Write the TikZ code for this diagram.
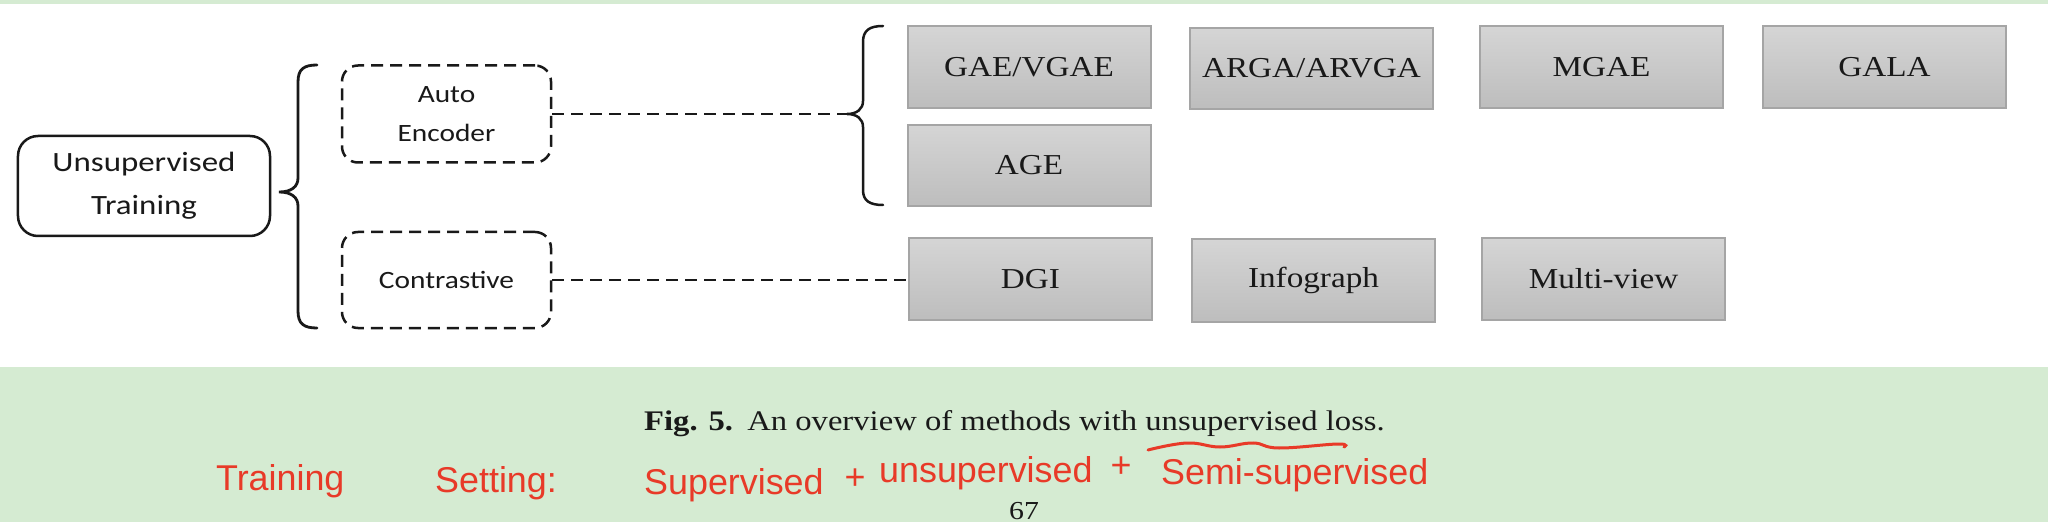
\documentclass[tikz,border=0pt]{standalone}
\usepackage{fontspec}
\newfontfamily\serifbox{Liberation Serif}[FakeStretch=1.15]
\newfontfamily\calib{Carlito}[FakeStretch=1.18]
\newfontfamily\hand{Liberation Sans}
\definecolor{bggreen}{RGB}{213,235,210}
\definecolor{hred}{RGB}{232,58,40}
\definecolor{boxtop}{RGB}{213,213,213}
\definecolor{boxbot}{RGB}{189,189,189}
\definecolor{boxline}{RGB}{165,165,165}
\definecolor{ink}{RGB}{25,25,25}
\tikzset{
  method/.style={draw=boxline, line width=2bp, top color=boxtop, bottom color=boxbot,
    minimum width=243bp, minimum height=82bp, inner sep=0pt, text=ink,
    font=\serifbox\fontsize{29}{34}\selectfont},
  catbox/.style={draw=ink, dash pattern=on 12bp off 7bp, line width=2.5bp, rounded corners=16bp,
    minimum width=209bp, minimum height=97bp, inner sep=0pt, align=center, text=ink,
    font=\calib\fontsize{25}{39}\selectfont},
  rootbox/.style={draw=ink, line width=2.5bp, rounded corners=20bp,
    minimum width=252bp, minimum height=100bp, inner sep=0pt, align=center, text=ink,
    font=\calib\fontsize{28}{43}\selectfont},
  dashline/.style={draw=ink, dash pattern=on 12bp off 7bp, line width=2.5bp},
  bracepath/.style={draw=ink, line width=2.8bp, line cap=round},
  handtext/.style={text=hred, font=\hand\fontsize{36}{40}\selectfont, inner sep=0pt, anchor=base west},
  plaintext/.style={inner sep=0pt, text=ink, font=\serifbox\fontsize{28.5}{34}\selectfont},
}
\begin{document}
\begin{tikzpicture}[x=1bp, y=-1bp]
\useasboundingbox (0,0) rectangle (2048,522);
\clip (0,0) rectangle (2048,522);
\fill[white] (0,0) rectangle (2048,522);
\fill[bggreen] (0,0) rectangle (2048,4);
\fill[bggreen] (0,367) rectangle (2048,522);

% root and categories
\node[rootbox] (ut) at (144,186) {Unsupervised\\Training};
\node[catbox] (ae) at (446.5,114) {Auto\\Encoder};
\node[catbox, minimum height=96bp] (co) at (446.5,280) {Contrastive};

% methods
\node[method] (gae) at (1029,67) {GAE/VGAE};
\node[method, minimum height=81bp] (age) at (1029,165.5) {AGE};
\node[method] (dgi) at (1030.5,279) {DGI};
\node[method, minimum height=81bp] (arga) at (1311.5,68.5) {ARGA/ARVGA};
\node[method, minimum height=83bp] (info) at (1313.5,280.5) {Infograph};
\node[method] (mgae) at (1601.5,67) {MGAE};
\node[method] (gala) at (1884.5,67) {GALA};
\node[method] (mv) at (1603.5,279) {Multi-view};

% braces
\draw[bracepath] (317,65) .. controls (304,65) and (298,69) .. (298,82) -- (298,178)
  .. controls (298,187) and (291,192) .. (279,192)
  .. controls (291,192) and (298,197) .. (298,206) -- (298,311)
  .. controls (298,324) and (304,328) .. (317,328);
\coordinate (b2tip) at (847,114);
\draw[bracepath, line width=2.5bp] (883,26) .. controls (870,26) and (863,30) .. (863,42) -- (863,101)
  .. controls (863,109) and (857,114) .. (b2tip)
  .. controls (857,114) and (863,119) .. (863,127) -- (863,190)
  .. controls (863,201) and (870,205) .. (883,205);

% connectors
\draw[dashline] (ae.east) -- (b2tip);
\draw[dashline] (co.east) -- (co.east -| dgi.west);

% caption
\node[plaintext, anchor=base west] (cap) at (644,430) {\textbf{Fig. 5.}\enspace An overview of methods with unsupervised loss.};
\node[plaintext, anchor=base, font=\serifbox\fontsize{26}{30}\selectfont] (pg) at (1024,519) {67};

% handwritten note
\node[handtext] (h1) at (216,490) {Training};
\node[handtext] (h2) at (435,492) {Setting:};
\node[handtext] (h3) at (644,494) {Supervised};
\node[handtext, anchor=base] (h4) at (855,489) {+};
\node[handtext] (h5) at (879,482) {unsupervised};
\node[handtext, anchor=base] (h6) at (1121,477) {+};
\node[handtext] (h7) at (1161,484) {Semi-supervised};
\draw[hred, line width=3bp, line cap=round] plot[smooth, tension=0.7] coordinates
  {(1148,450) (1187,443) (1220,447) (1253,443) (1279,448) (1338,444) (1344,447)};
\end{tikzpicture}
\end{document}
